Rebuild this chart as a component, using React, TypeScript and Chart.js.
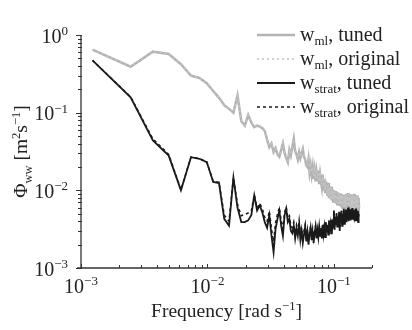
import React, { useEffect, useRef } from "react";
import { Chart, registerables } from "chart.js";

Chart.register(...registerables);

// Spectral grid: k-th harmonic of the fundamental frequency (rad s^-1)
const FREQ_STEP = 0.001234;

const wmlTuned = [
  0.65, 0.39, 0.61, 0.57, 0.42, 0.30, 0.28, 0.24, 0.19, 0.155,
  0.125, 0.112, 0.100, 0.167, 0.078, 0.068, 0.093, 0.075, 0.065, 0.068,
  0.066, 0.063, 0.058, 0.045, 0.036, 0.040, 0.031, 0.035, 0.029, 0.027,
  0.033, 0.040, 0.030, 0.026, 0.023, 0.033, 0.028, 0.036, 0.046, 0.032,
  0.029, 0.025, 0.031, 0.026, 0.030, 0.034, 0.027, 0.025, 0.021, 0.020,
  0.025, 0.017, 0.021, 0.016, 0.020, 0.014, 0.018, 0.013, 0.017, 0.013,
  0.018, 0.012, 0.016, 0.013, 0.011, 0.016, 0.010, 0.014, 0.0095, 0.013,
  0.0115, 0.0085, 0.0125, 0.0080, 0.0110, 0.0078, 0.0112, 0.0074, 0.0102, 0.0072,
  0.0100, 0.0070, 0.0098, 0.0068, 0.0096, 0.0066, 0.0094, 0.0064, 0.0092, 0.0063,
  0.0091, 0.0062, 0.0089, 0.0060, 0.0088, 0.0059, 0.0086, 0.0058, 0.0087, 0.0057,
  0.0090, 0.0055, 0.0086, 0.0056, 0.0092, 0.0053, 0.0085, 0.0054, 0.0089, 0.0052,
  0.0084, 0.0051, 0.0088, 0.0053, 0.0083, 0.0050, 0.0090, 0.0052, 0.0082, 0.0050,
  0.0087, 0.0051, 0.0081, 0.0049, 0.0086, 0.0050, 0.0080, 0.0058,
];

const wmlOriginal = [
  0.65, 0.39, 0.61, 0.57, 0.42, 0.30, 0.28, 0.24, 0.19, 0.156,
  0.126, 0.113, 0.101, 0.165, 0.079, 0.069, 0.092, 0.076, 0.066, 0.069,
  0.067, 0.064, 0.057, 0.046, 0.037, 0.041, 0.032, 0.035, 0.030, 0.028,
  0.033, 0.041, 0.031, 0.027, 0.024, 0.032, 0.029, 0.036, 0.045, 0.033,
  0.030, 0.026, 0.031, 0.027, 0.030, 0.033, 0.028, 0.026, 0.022, 0.021,
  0.024, 0.018, 0.021, 0.017, 0.020, 0.015, 0.018, 0.014, 0.017, 0.014,
  0.017, 0.013, 0.016, 0.013, 0.012, 0.015, 0.011, 0.014, 0.010, 0.013,
  0.0112, 0.0088, 0.0120, 0.0083, 0.0108, 0.0080, 0.0110, 0.0077, 0.0100, 0.0075,
  0.0098, 0.0073, 0.0096, 0.0071, 0.0094, 0.0069, 0.0092, 0.0067, 0.0090, 0.0066,
  0.0089, 0.0065, 0.0087, 0.0063, 0.0086, 0.0062, 0.0084, 0.0061, 0.0085, 0.0060,
  0.0088, 0.0058, 0.0084, 0.0059, 0.0090, 0.0056, 0.0083, 0.0057, 0.0087, 0.0055,
  0.0082, 0.0054, 0.0086, 0.0056, 0.0081, 0.0053, 0.0088, 0.0055, 0.0080, 0.0053,
  0.0085, 0.0054, 0.0079, 0.0052, 0.0084, 0.0053, 0.0078, 0.0060,
];

const wstratTuned = [
  0.47, 0.158, 0.044, 0.028, 0.010, 0.0267, 0.0255, 0.0231, 0.0128, 0.0124,
  0.0043, 0.0035, 0.0145, 0.0060, 0.0039, 0.0039, 0.0041, 0.0048, 0.0086, 0.0055,
  0.0064, 0.0052, 0.0039, 0.0033, 0.0048, 0.0026, 0.0016, 0.0032, 0.0043, 0.0055,
  0.0035, 0.0026, 0.0048, 0.0058, 0.0039, 0.0043, 0.0030, 0.0028, 0.0035, 0.0024,
  0.0032, 0.0026, 0.0038, 0.0023, 0.0030, 0.0021, 0.0027, 0.0034, 0.0022, 0.0029,
  0.0020, 0.0027, 0.0033, 0.0023, 0.0030, 0.0021, 0.0028, 0.0034, 0.0024, 0.0031,
  0.0025, 0.0035, 0.0026, 0.0032, 0.0024, 0.0036, 0.0027, 0.0033, 0.0025, 0.0038,
  0.0029, 0.0036, 0.0027, 0.0040, 0.0030, 0.0037, 0.0028, 0.0042, 0.0032, 0.0039,
  0.0055, 0.0031, 0.0045, 0.0036, 0.0050, 0.0034, 0.0046, 0.0038, 0.0052, 0.0030,
  0.0047, 0.0040, 0.0054, 0.0035, 0.0049, 0.0041, 0.0058, 0.0037, 0.0050, 0.0043,
  0.0056, 0.0039, 0.0052, 0.0044, 0.0060, 0.0040, 0.0051, 0.0045, 0.0057, 0.0041,
  0.0053, 0.0046, 0.0059, 0.0042, 0.0050, 0.0047, 0.0055, 0.0040, 0.0052, 0.0045,
  0.0058, 0.0041, 0.0049, 0.0044, 0.0054, 0.0039, 0.0048, 0.0046,
];

const wstratOriginal = [
  0.47, 0.160, 0.046, 0.029, 0.0102, 0.0268, 0.0256, 0.0233, 0.0130, 0.0127,
  0.0048, 0.0040, 0.0146, 0.0066, 0.0047, 0.0049, 0.0051, 0.0054, 0.0088, 0.0060,
  0.0068, 0.0058, 0.0045, 0.0040, 0.0054, 0.0032, 0.0022, 0.0038, 0.0050, 0.0060,
  0.0041, 0.0032, 0.0052, 0.0061, 0.0044, 0.0047, 0.0035, 0.0033, 0.0039, 0.0029,
  0.0036, 0.0030, 0.0041, 0.0027, 0.0033, 0.0025, 0.0030, 0.0036, 0.0026, 0.0031,
  0.0024, 0.0029, 0.0035, 0.0026, 0.0032, 0.0024, 0.0030, 0.0035, 0.0027, 0.0033,
  0.0028, 0.0036, 0.0028, 0.0034, 0.0027, 0.0037, 0.0029, 0.0035, 0.0028, 0.0039,
  0.0031, 0.0037, 0.0029, 0.0041, 0.0032, 0.0038, 0.0030, 0.0043, 0.0034, 0.0040,
  0.0055, 0.0033, 0.0046, 0.0038, 0.0051, 0.0036, 0.0047, 0.0040, 0.0053, 0.0033,
  0.0048, 0.0042, 0.0055, 0.0037, 0.0050, 0.0043, 0.0058, 0.0039, 0.0051, 0.0045,
  0.0056, 0.0041, 0.0053, 0.0046, 0.0060, 0.0042, 0.0052, 0.0047, 0.0057, 0.0043,
  0.0054, 0.0047, 0.0059, 0.0044, 0.0051, 0.0048, 0.0056, 0.0042, 0.0053, 0.0046,
  0.0058, 0.0043, 0.0050, 0.0045, 0.0055, 0.0041, 0.0049, 0.0047,
];

const frequencies = wmlTuned.map((_, i) => (i + 1) * FREQ_STEP);

const xTickExponents = [-3, -2, -1];
const yTickExponents = [0, -1, -2, -3];

const legendEntries = [
  { sub: "ml", label: ", tuned", color: "#b3b3b3", width: 2.5, dash: [] as number[] },
  { sub: "ml", label: ", original", color: "#c4c4c4", width: 1.5, dash: [2, 3] },
  { sub: "strat", label: ", tuned", color: "#1a1a1a", width: 1.8, dash: [] as number[] },
  { sub: "strat", label: ", original", color: "#1a1a1a", width: 1.5, dash: [3, 3] },
];

const FONT = '"Liberation Serif", "Times New Roman", serif';
const MINUS = "\u2212";

type Part = { t: string; s: number; dy: number };

function setFont(ctx: CanvasRenderingContext2D, size: number) {
  ctx.font = `${size}px ${FONT}`;
}
function richWidth(ctx: CanvasRenderingContext2D, parts: Part[]) {
  let w = 0;
  for (const p of parts) {
    setFont(ctx, p.s);
    w += ctx.measureText(p.t).width;
  }
  return w;
}
function drawRich(ctx: CanvasRenderingContext2D, parts: Part[], x: number, y: number) {
  let cx = x;
  ctx.textAlign = "left";
  ctx.textBaseline = "alphabetic";
  for (const p of parts) {
    setFont(ctx, p.s);
    ctx.fillText(p.t, cx, y + p.dy);
    cx += ctx.measureText(p.t).width;
  }
}
function expLabel(e: number): Part[] {
  const es = e < 0 ? MINUS + String(-e) : String(e);
  return [
    { t: "10", s: 20, dy: 0 },
    { t: es, s: 13, dy: -7.5 },
  ];
}

const decorPlugin = {
  id: "decor",
  afterDraw(chart: any) {
    const ctx: CanvasRenderingContext2D = chart.ctx;
    const xs = chart.scales.x;
    const ys = chart.scales.y;
    const { left, right, top, bottom } = chart.chartArea;
    ctx.save();
    ctx.fillStyle = "#222";
    ctx.strokeStyle = "#333";
    ctx.lineWidth = 1.3;
    // axes
    ctx.beginPath();
    ctx.moveTo(left - 4, bottom);
    ctx.lineTo(right, bottom);
    ctx.moveTo(left, bottom);
    ctx.lineTo(left, top);
    ctx.stroke();
    // ticks
    ctx.lineWidth = 1;
    ctx.beginPath();
    for (let d = -3; d <= -1; d++) {
      for (let m = 1; m <= 9; m++) {
        const v = m * Math.pow(10, d);
        if (v < xs.min - 1e-12 || v > xs.max + 1e-9) continue;
        const px = Math.round(xs.getPixelForValue(v)) + 0.5;
        const len = m === 1 ? 4 : 3;
        ctx.moveTo(px, bottom);
        ctx.lineTo(px, bottom - len);
      }
    }
    for (let d = -3; d <= 0; d++) {
      for (let m = 1; m <= 9; m++) {
        const v = m * Math.pow(10, d);
        if (v < ys.min - 1e-12 || v > ys.max + 1e-9) continue;
        const py = Math.round(ys.getPixelForValue(v)) + 0.5;
        const len = m === 1 ? 5 : 3;
        ctx.moveTo(left - len, py);
        ctx.lineTo(left + 1, py);
      }
    }
    ctx.stroke();
    // tick labels
    ctx.fillStyle = "#222";
    for (const e of xTickExponents) {
      const px = xs.getPixelForValue(Math.pow(10, e));
      const parts = expLabel(e);
      const w = richWidth(ctx, parts);
      drawRich(ctx, parts, px - w / 2, bottom + 24.5);
    }
    for (const e of yTickExponents) {
      const py = ys.getPixelForValue(Math.pow(10, e));
      const parts = expLabel(e);
      const w = richWidth(ctx, parts);
      drawRich(ctx, parts, left - 13 - w, py + 7.5);
    }
    // x title
    const xt: Part[] = [
      { t: "Frequency [rad s", s: 19.5, dy: 0 },
      { t: MINUS + "1", s: 12.5, dy: -7.5 },
      { t: "]", s: 19.5, dy: 0 },
    ];
    const xw = richWidth(ctx, xt);
    drawRich(ctx, xt, (left + right) / 2 - xw / 2, bottom + 49);
    // y title
    const yt: Part[] = [
      { t: "\u03A6", s: 19.5, dy: 0 },
      { t: "ww", s: 12.5, dy: 4.5 },
      { t: " [m", s: 19.5, dy: 0 },
      { t: "2", s: 12.5, dy: -7.5 },
      { t: "s", s: 19.5, dy: 0 },
      { t: MINUS + "1", s: 12.5, dy: -7.5 },
      { t: "]", s: 19.5, dy: 0 },
    ];
    const yw = richWidth(ctx, yt);
    ctx.save();
    ctx.translate(27, (top + bottom) / 2);
    ctx.rotate(-Math.PI / 2);
    drawRich(ctx, yt, -yw / 2, 0);
    ctx.restore();
    // legend
    legendEntries.forEach((en, i) => {
      const ly = 35 + i * 24;
      ctx.save();
      ctx.strokeStyle = en.color;
      ctx.lineWidth = en.width;
      ctx.setLineDash(en.dash);
      ctx.beginPath();
      ctx.moveTo(257, ly);
      ctx.lineTo(295, ly);
      ctx.stroke();
      ctx.restore();
      ctx.fillStyle = "#222";
      drawRich(
        ctx,
        [
          { t: "w", s: 20, dy: 0 },
          { t: en.sub, s: 13, dy: 4 },
          { t: en.label, s: 20, dy: 0 },
        ],
        300,
        ly + 5.8
      );
    });
    ctx.restore();
  },
};

function toPoints(values: number[]) {
  return values.map((v, i) => ({ x: frequencies[i], y: v }));
}

export default function App() {
  const ref = useRef<HTMLCanvasElement>(null);
  useEffect(() => {
    if (!ref.current) return;
    const chart = new Chart(ref.current, {
      type: "line",
      data: {
        datasets: [
          {
            label: "w_strat, original",
            data: toPoints(wstratOriginal),
            borderColor: "#1a1a1a",
            borderWidth: 1.5,
            borderDash: [3, 3],
            pointRadius: 0,
            tension: 0,
            order: 0,
          },
          {
            label: "w_strat, tuned",
            data: toPoints(wstratTuned),
            borderColor: "#1a1a1a",
            borderWidth: 1.8,
            pointRadius: 0,
            tension: 0,
            order: 1,
          },
          {
            label: "w_ml, original",
            data: toPoints(wmlOriginal),
            borderColor: "#c4c4c4",
            borderWidth: 1.5,
            borderDash: [2, 3],
            pointRadius: 0,
            tension: 0,
            order: 2,
          },
          {
            label: "w_ml, tuned",
            data: toPoints(wmlTuned),
            borderColor: "#b3b3b3",
            borderWidth: 2.5,
            pointRadius: 0,
            tension: 0,
            order: 3,
          },
        ],
      },
      options: {
        animation: false,
        responsive: false,
        devicePixelRatio: 1,
        layout: { padding: { left: 81, top: 35, right: 40, bottom: 62 } },
        plugins: { legend: { display: false }, tooltip: { enabled: false } },
        scales: {
          x: { type: "logarithmic", min: 0.001, max: 0.2, display: false },
          y: { type: "logarithmic", min: 0.001, max: 1, display: false },
        },
      },
      plugins: [decorPlugin],
    } as any);
    return () => chart.destroy();
  }, []);
  return (
    <div style={{ position: "fixed", left: 0, top: 0, width: 412, height: 330, background: "#fff" }}>
      <canvas ref={ref} width={412} height={330} style={{ width: 412, height: 330 }} />
    </div>
  );
}
